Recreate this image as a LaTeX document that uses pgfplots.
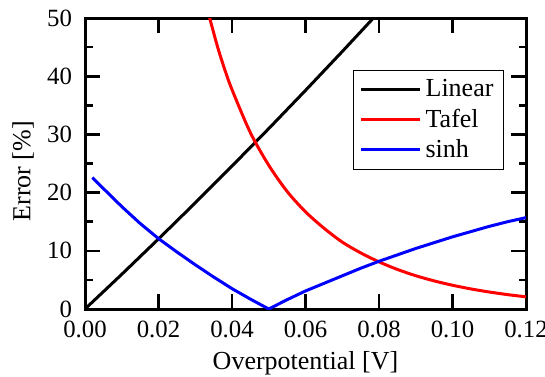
\documentclass[border=0pt]{standalone}
\usepackage{pgfplots}
\pgfplotsset{compat=1.18}
\usepackage{fontspec}
\setmainfont{Liberation Serif}
\begin{document}
\begin{tikzpicture}
\useasboundingbox (0,0) rectangle (272.5pt,188pt);
\begin{axis}[
  at={(42.5pt,33.5pt)}, anchor=south west,
  width=220.5pt, height=145.5pt, scale only axis,
  xmin=0, xmax=0.12, ymin=0, ymax=50,
  xtick={0,0.02,0.04,0.06,0.08,0.1,0.12},
  ytick={0,10,20,30,40,50},
  minor y tick num=1,
  tick align=inside,
  major tick length=7.5pt, minor tick length=3.75pt,
  every tick/.style={line width=1.3pt, black},
  axis line style={line width=1.5pt},
  scaled x ticks=false,
  xticklabel={\pgfmathprintnumber[assume math mode=true,fixed,fixed zerofill,precision=2]{\tick}},
  yticklabel={\pgfmathprintnumber[assume math mode=true]{\tick}},
  tick label style={font=\fontsize{12.4}{14}\selectfont},
  xticklabel style={yshift=-2.5pt},
  yticklabel style={xshift=-3pt},
  xlabel={Overpotential [V]},
  ylabel={Error [\%]},
  label style={font=\fontsize{13}{15}\selectfont},
  x label style={at={(axis description cs:0.5,-0.2096)}, anchor=base},
  y label style={at={(axis description cs:-0.1406,0.473)}, anchor=center},
  legend style={at={(0.608,0.821)}, anchor=north west, draw=black, line width=0.5pt,
    font=\fontsize{13}{15}\selectfont, row sep=0.5pt, inner xsep=3pt, inner ysep=2.5pt},
  legend cell align=left,
  legend image code/.code={\draw[#1, line width=1.5pt] (0pt,0pt) -- (29.5pt,0pt);},
]
\addplot[black, line width=1.5pt] coordinates {
(0,0) (0.005,2.97) (0.01,5.96) (0.02,12.04) (0.03,18.24) (0.04,24.56)
(0.05,31.0) (0.06,37.56) (0.07,44.24) (0.0786,50.08)};
\addlegendentry{Linear}
\addplot[red, line width=1.5pt, smooth] coordinates {
(0.0335,51.0) (0.036,45.2) (0.038,41.2) (0.040,37.7) (0.045,30.3) (0.050,24.7)
(0.055,20.2) (0.060,16.7) (0.065,13.9) (0.070,11.5) (0.075,9.65) (0.080,8.1)
(0.085,6.80) (0.090,5.72) (0.095,4.83) (0.100,4.08) (0.105,3.45) (0.110,2.92)
(0.115,2.47) (0.120,2.09)};
\addlegendentry{Tafel}
\addplot[blue, line width=1.5pt] coordinates {
(0.002,22.6) (0.005,20.7) (0.01,17.6) (0.015,14.7) (0.02,12.1) (0.025,9.8)
(0.03,7.6) (0.035,5.5) (0.04,3.5) (0.045,1.7) (0.05,0)
(0.055,1.6) (0.06,3.1) (0.065,4.4) (0.07,5.7) (0.075,7.0) (0.08,8.2)
(0.085,9.3) (0.09,10.4) (0.095,11.4) (0.10,12.4) (0.105,13.3) (0.11,14.2)
(0.115,15.0) (0.12,15.7)};
\addlegendentry{sinh}
\end{axis}
\end{tikzpicture}
\end{document}
